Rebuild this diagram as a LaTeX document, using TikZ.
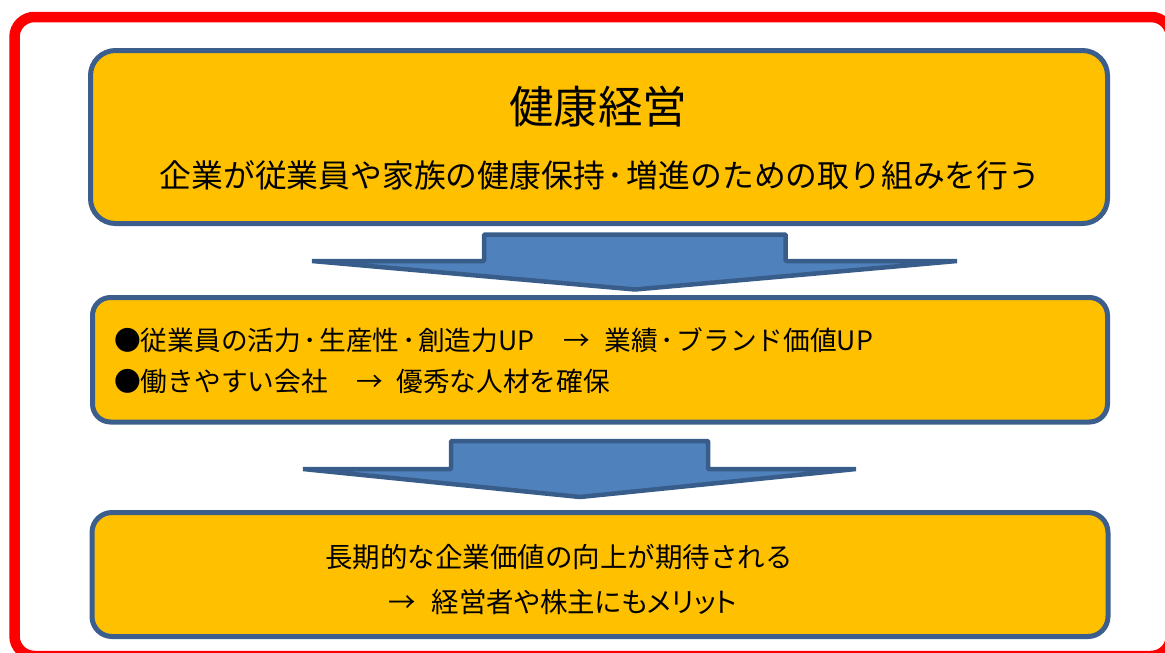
\documentclass[tikz,border=0pt]{standalone}
\usepackage{fontspec}
\setmainfont{Noto Sans CJK JP}
\newfontfamily\jp{Noto Sans CJK JP}
\newfontfamily\jpp[RawFeature=+palt]{Noto Sans CJK JP}
\newcommand\nakaten{\makebox[0.69em][c]{･}}
\definecolor{boxfill}{HTML}{FFC000}
\definecolor{boxline}{HTML}{3B5E8C}
\definecolor{arrfill}{HTML}{4F81BD}
\definecolor{arrline}{HTML}{385D8A}
\definecolor{frame}{HTML}{FF0000}
\tikzset{
  panel/.style={draw=boxline, fill=boxfill, line width=5pt, rectangle, inner sep=0pt},
  blockarrow/.style={draw=arrline, fill=arrfill, line width=4.5pt, line join=bevel},
  txt/.style={inner sep=0pt, text=black},
}
\begin{document}
\begin{tikzpicture}[x=1pt,y=-1pt]
\useasboundingbox (0,0) rectangle (1165,653);
\begin{scope}
  \clip (0,0) rectangle (1165,653);
  \draw[frame, line width=10.5pt, rounded corners=20pt] (14.5,17) rectangle (1171,656);
\end{scope}

% panels
\node[panel, rounded corners=25pt, minimum width=1017pt, minimum height=173pt] (p1) at (599,137) {};
\node[panel, rounded corners=18pt, minimum width=1015pt, minimum height=124.5pt] (p2) at (600,359.75) {};
\node[panel, rounded corners=20pt, minimum width=1016pt, minimum height=124pt] (p3) at (600,574.5) {};

% block arrows
\draw[blockarrow] (484,234.5) -- (785.5,234.5) -- (785.5,261) -- (957,261) -- (635,289.5) -- (312,261) -- (484,261) -- cycle;
\draw[blockarrow] (451,441) -- (708,441) -- (708,469) -- (856,469) -- (580,497) -- (303,469) -- (451,469) -- cycle;

% texts
\node[txt] (t1) at (598,107) {\jp\fontsize{44.5}{50}\selectfont 健康経営};
\node[txt] (t2) at (600,175) {\jp\fontsize{31.8}{36}\selectfont 企業が従業員や家族の健康保持\nakaten 増進のための取り組みを行う};
\node[txt, anchor=west] (t3) at (114,340) {\jp\fontsize{26.7}{30}\selectfont ●従業員の活力\nakaten 生産性\nakaten 創造力UP\hspace{29pt}→\hspace{15pt}業績\nakaten ブランド価値UP};
\node[txt, anchor=west] (t4) at (114,381) {\jp\fontsize{26.7}{30}\selectfont ●働きやすい会社\hspace{29pt}→\hspace{13pt}優秀な人材を確保};
\node[txt] (t5) at (559,557) {\jp\fontsize{27.5}{32}\selectfont 長期的な企業価値の向上が期待される};
\node[txt, anchor=west] (t6) at (388,602) {\jpp\fontsize{27.5}{32}\selectfont →\hspace{16pt}経営者や株主にもメリット};
\end{tikzpicture}
\end{document}
